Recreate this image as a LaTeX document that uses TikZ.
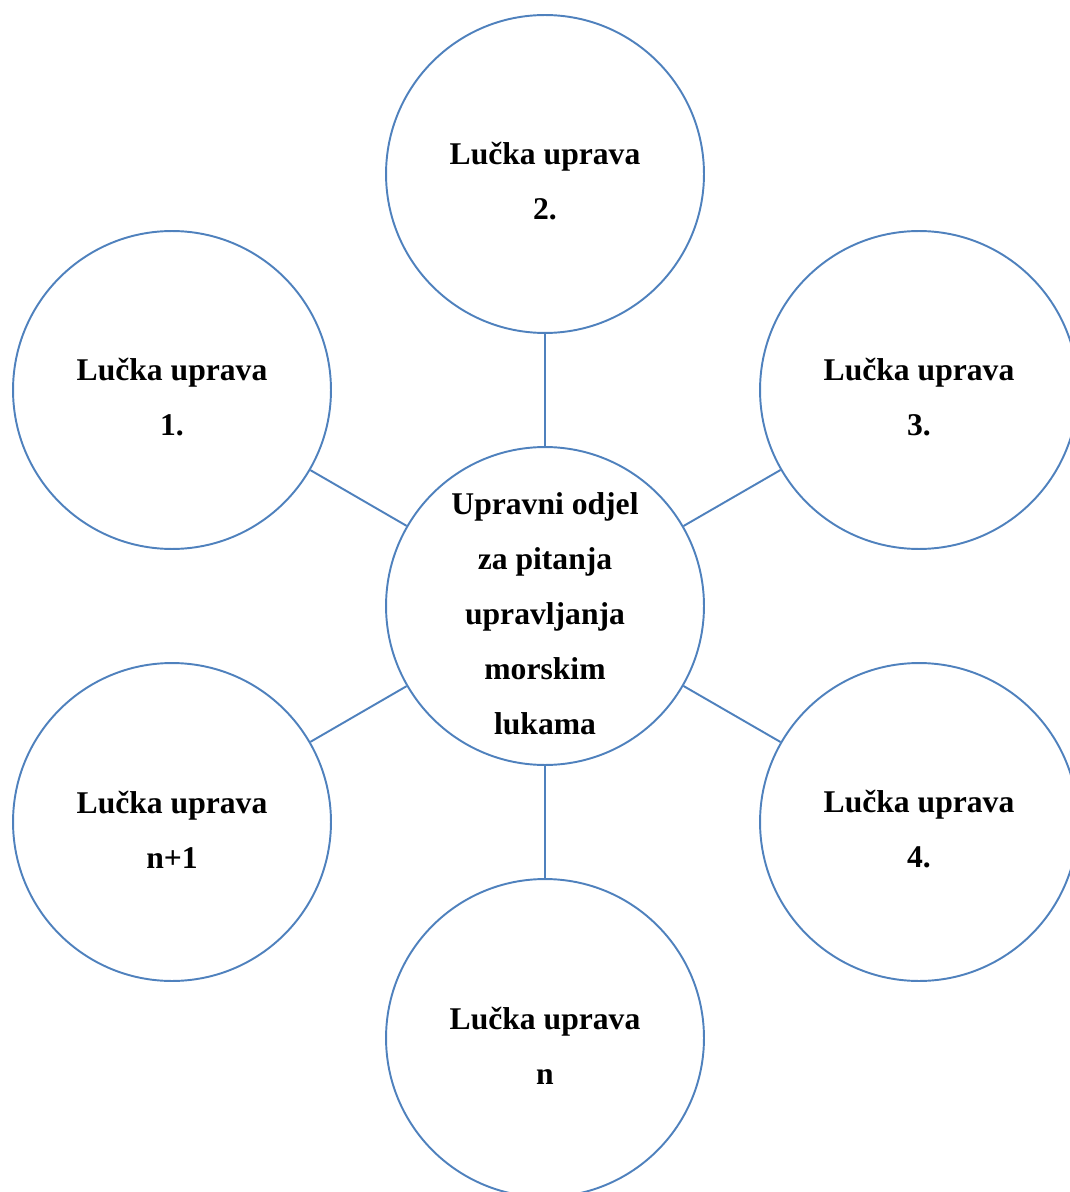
\documentclass[tikz,border=0pt]{standalone}
\usepackage{fontspec}
\setmainfont{Liberation Serif}
\definecolor{rub}{RGB}{79,129,189}
\begin{document}
\begin{tikzpicture}[
    x=0.02cm, y=-0.02cm,
    uprava/.style={circle, draw=rub, line width=1.1pt, minimum size=6.36cm, inner sep=0pt,
        label={[tekst]center:#1}},
    tekst/.style={align=center, yshift=-0.15cm, font=\fontsize{18}{31.3}\selectfont\bfseries},
    veza/.style={draw=rub, line width=1.1pt}
]
    \useasboundingbox (0,0) rectangle (1070,1192);

    % Odjel
    \node[uprava={Upravni odjel\\za pitanja\\upravljanja\\morskim\\lukama}] (odjel) at (545,606) {};

    % Lucke uprave
    \node[uprava={Lučka uprava\\2.}] (lu2) at (545,174) {};
    \node[uprava={Lučka uprava\\1.}] (lu1) at (172,390) {};
    \node[uprava={Lučka uprava\\3.}] (lu3) at (919,390) {};
    \node[uprava={Lučka uprava\\n+1}] (lun1) at (172,822) {};
    \node[uprava={Lučka uprava\\4.}] (lu4) at (919,822) {};
    \node[uprava={Lučka uprava\\n}] (lun) at (545,1038) {};

    % Veze
    \draw[veza] (odjel) -- (lu2);
    \draw[veza] (odjel) -- (lu1);
    \draw[veza] (odjel) -- (lu3);
    \draw[veza] (odjel) -- (lun1);
    \draw[veza] (odjel) -- (lu4);
    \draw[veza] (odjel) -- (lun);
\end{tikzpicture}
\end{document}
